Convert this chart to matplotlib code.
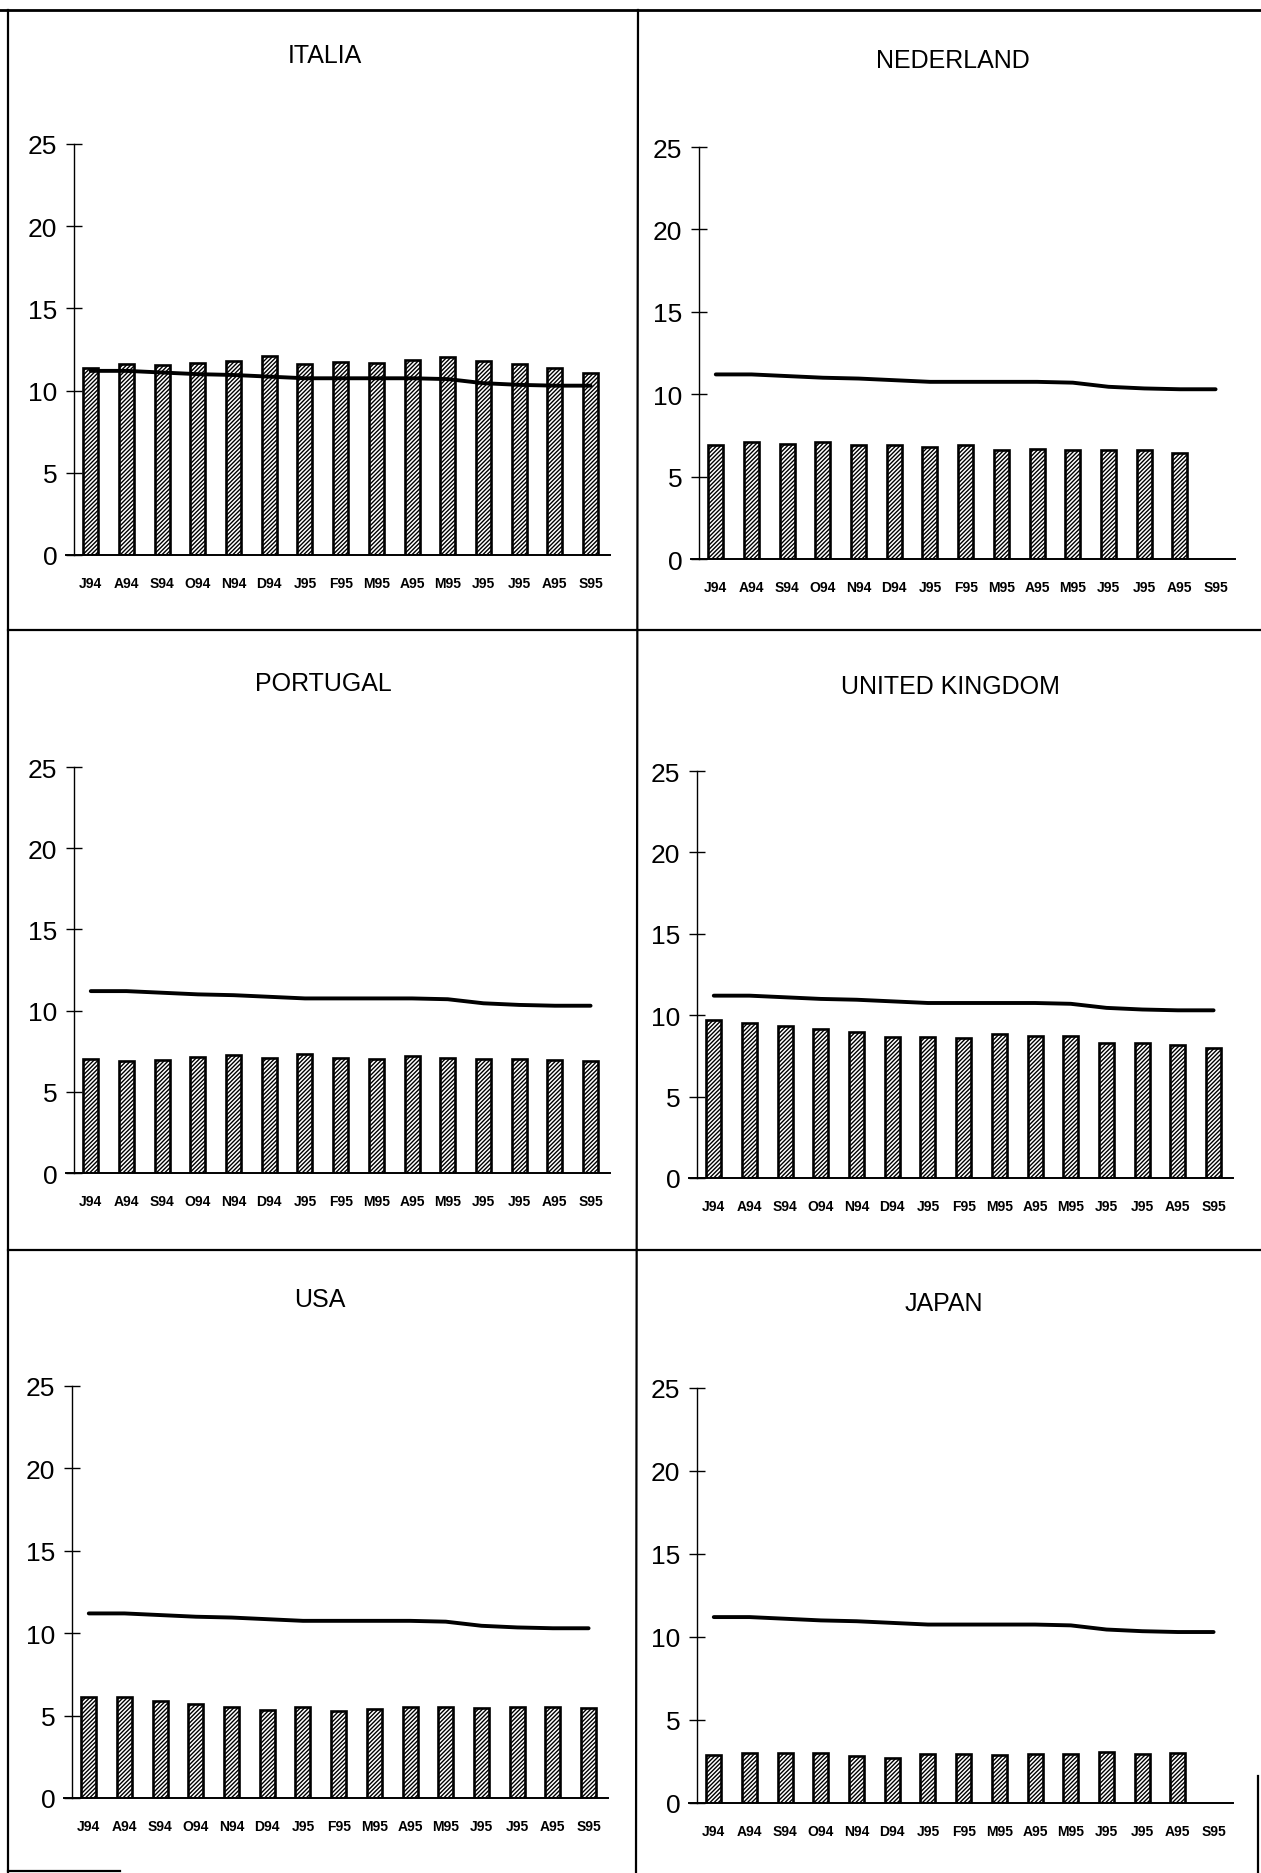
import numpy as np
import matplotlib
matplotlib.use('Agg')
import matplotlib.pyplot as plt

plt.rcParams['font.family'] = ['Liberation Sans', 'DejaVu Sans']
plt.rcParams['hatch.linewidth'] = 1.0

months = ['J94', 'A94', 'S94', 'O94', 'N94', 'D94', 'J95', 'F95',
          'M95', 'A95', 'M95', 'J95', 'J95', 'A95', 'S95']

# line common to all panels
eu_line = [11.2, 11.2, 11.1, 11.0, 10.95, 10.85, 10.75, 10.75,
           10.75, 10.75, 10.7, 10.45, 10.35, 10.3, 10.3]

italia = [11.35, 11.6, 11.55, 11.7, 11.8, 12.1, 11.6, 11.75,
          11.7, 11.85, 12.05, 11.8, 11.6, 11.4, 11.05]
nederland = [6.9, 7.1, 6.95, 7.1, 6.9, 6.9, 6.8, 6.9,
             6.6, 6.7, 6.6, 6.6, 6.6, 6.45, np.nan]
portugal = [7.05, 6.9, 6.95, 7.15, 7.25, 7.1, 7.3, 7.1,
            7.05, 7.2, 7.1, 7.0, 7.0, 6.95, 6.9]
uk = [9.7, 9.5, 9.35, 9.15, 8.95, 8.65, 8.65, 8.6,
      8.85, 8.75, 8.75, 8.3, 8.3, 8.15, 8.0]
usa = [6.1, 6.1, 5.9, 5.7, 5.55, 5.35, 5.5, 5.3,
       5.4, 5.55, 5.55, 5.45, 5.5, 5.5, 5.45]
japan = [2.9, 3.0, 3.0, 3.0, 2.85, 2.7, 2.95, 2.95,
         2.9, 2.95, 2.95, 3.05, 2.95, 3.0, np.nan]

titles = ['ITALIA', 'NEDERLAND', 'PORTUGAL', 'UNITED KINGDOM', 'USA', 'JAPAN']
series = [italia, nederland, portugal, uk, usa, japan]

W, H = 1261, 1874
fig = plt.figure(figsize=(W / 100, H / 100), dpi=100)

# (y-axis x, y of 0, y of 25, title x, title y) in pixels of the page
panels = [(74, 556, 145, 325, 56),
          (699, 560, 148, 953, 61),
          (74, 1174, 768, 323, 684),
          (697, 1179, 772, 950, 687),
          (72, 1799, 1387, 320, 1300),
          (697, 1804, 1389, 944, 1304)]

step = 35.7      # pixels between two bars
x_left = -0.7
x_right = 14.55
x_axis = -0.47
x = np.arange(len(months))

for (px, y0, y25, tx, ty), name, vals in zip(panels, titles, series):
    left = px - (x_axis - x_left) * step
    width = (x_right - x_left) * step
    ax = fig.add_axes([left / W, 1 - y0 / H, width / W, (y0 - y25) / H])
    vals = np.array(vals, dtype=float)
    ok = ~np.isnan(vals)
    ax.bar(x[ok], vals[ok], width=0.42, color='white', edgecolor='black',
           linewidth=1.9, hatch='////////', zorder=2)
    ax.plot(x, eu_line, color='black', linewidth=2.8,
            solid_joinstyle='round', solid_capstyle='round', zorder=3)
    ax.set_xlim(x_left, x_right)
    ax.set_ylim(0, 25)
    ax.spines['top'].set_visible(False)
    ax.spines['right'].set_visible(False)
    ax.spines['left'].set_position(('data', x_axis))
    ax.spines['left'].set_linewidth(1.0)
    ax.spines['bottom'].set_linewidth(1.4)
    ax.set_yticks([0, 5, 10, 15, 20, 25])
    ax.tick_params(axis='y', direction='inout', length=12, width=1.0,
                   labelsize=19, pad=6)
    ax.set_xticks(x)
    ax.set_xticklabels(months, fontsize=10, fontweight='bold')
    ax.tick_params(axis='x', length=0, pad=15)
    ax.patch.set_alpha(0)
    fig.text(tx / W, 1 - ty / H, name, ha='center', va='center', fontsize=18)

# page frame and dividers
frame = fig.add_axes([0, 0, 1, 1])
frame.set_xlim(0, W)
frame.set_ylim(H, 0)
frame.axis('off')
frame.plot([0, W], [11, 11], color='black', lw=2)
frame.plot([8, 8], [11, H], color='black', lw=1.6)
frame.plot([638, 636], [11, H], color='black', lw=1.6)
frame.plot([8, W], [631, 631], color='black', lw=1.6)
frame.plot([8, W], [1251, 1251], color='black', lw=1.6)
frame.plot([8, 120], [H - 2, H - 2], color='black', lw=1.6)
frame.plot([1258, 1258], [1777, H], color='black', lw=1.6)

fig.savefig('out.png', dpi=100)
